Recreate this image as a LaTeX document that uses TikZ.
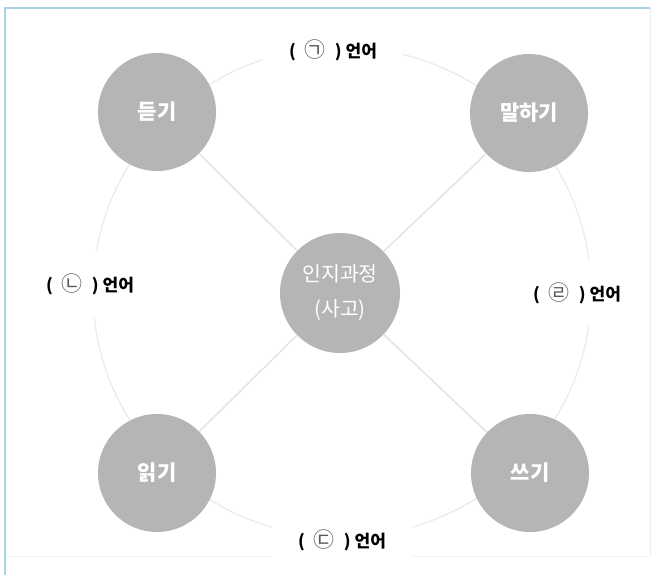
\documentclass[tikz,border=0pt]{standalone}
\usepackage{fontspec}
\setmainfont{Noto Sans CJK KR}
\definecolor{circgray}{HTML}{B5B5B5}
\definecolor{linegray}{HTML}{E2E2E2}
\definecolor{ringgray}{HTML}{EAEAEA}
\definecolor{framblue}{HTML}{A9D3E6}
\newcommand{\langlbl}[1]{(\hspace{9pt}{\mdseries\fontsize{21}{19}\selectfont\textcolor{black!65}{#1}}\hspace{9pt})\hspace{4pt}언어}
\begin{document}
\begin{tikzpicture}[x=1pt,y=-1pt,
  skill/.style={circle,fill=circgray,draw=none,minimum size=118pt,inner sep=0pt,text=white,font=\fontsize{21}{24}\selectfont\bfseries},
  core/.style={circle,fill=circgray,draw=none,minimum size=120pt,inner sep=0pt,text=white,align=center,font=\fontsize{20.5}{35}\selectfont},
  lang/.style={fill=white,inner xsep=26pt,inner ysep=22pt,font=\fontsize{17}{19}\selectfont\bfseries},
  conn/.style={draw=linegray,line width=1.4pt}]
\useasboundingbox (0,0) rectangle (658,575);
\fill[white] (0,0) rectangle (658,575);
% frame
\draw[framblue!35,line width=0.8pt] (650,8) -- (650,556);
\draw[framblue!20,line width=0.8pt] (5,556) -- (650,556);
\draw[framblue,line width=1.2pt] (5,575) -- (5,8) -- (650,8);
% big ring
\coordinate (ctr) at (342,292);
\draw[ringgray,line width=1.2pt] (ctr) ellipse [x radius=249, y radius=245];
% nodes
\node[core] (c) at (340,293) {인지과정\\(사고)};
\node[skill] (lis) at (157,112) {듣기};
\node[skill] (spk) at (529,113) {말하기};
\node[skill] (rea) at (157,473) {읽기};
\node[skill] (wri) at (530,473) {쓰기};
\draw[conn] (c) -- (lis);
\draw[conn] (c) -- (spk);
\draw[conn] (c) -- (rea);
\draw[conn] (c) -- (wri);
% labels
\node[lang] (la) at (333,50) {\langlbl{㉠}};
\node[lang] (lb) at (90,284) {\langlbl{㉡}};
\node[lang] (lc) at (342,540) {\langlbl{㉢}};
\node[lang] (ld) at (577,293) {\langlbl{㉣}};
\end{tikzpicture}
\end{document}
